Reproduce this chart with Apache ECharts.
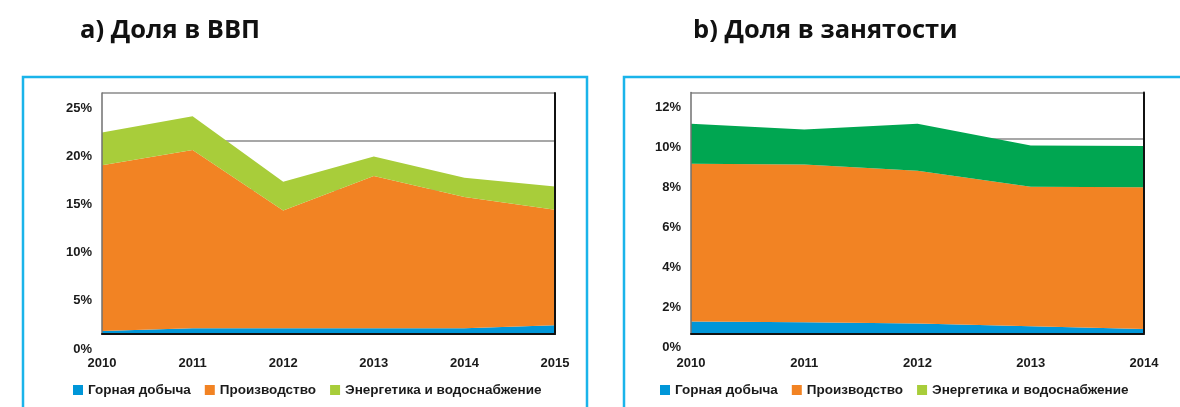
<!DOCTYPE html>
<html>
<head>
<meta charset="utf-8">
<script src="https://cdn.jsdelivr.net/npm/echarts@6/dist/echarts.min.js"></script>
<style>
  html, body { margin: 0; padding: 0; background: #fff; }
  #chart { width: 1180px; height: 407px; }
</style>
</head>
<body>
<div id="chart"></div>
<script>
// данные: доля в ВВП (a) и доля в занятости (b), %
const gdpYears = ['2010', '2011', '2012', '2013', '2014', '2015']
const gdpMining = [0.3, 0.6, 0.6, 0.6, 0.6, 0.9]
const gdpManuf = [17.2, 18.5, 12.2, 15.8, 13.6, 12.0]
const gdpEnergy = [3.4, 3.5, 3.0, 2.0, 2.0, 2.4]

const empYears = ['2010', '2011', '2012', '2013', '2014']
const empMining = [0.6, 0.56, 0.5, 0.36, 0.23]
const empManuf = [7.85, 7.85, 7.6, 6.95, 7.05]
const empEnergy = [2.0, 1.75, 2.35, 2.05, 2.05]

const names = ['Горная добыча', 'Производство', 'Энергетика и водоснабжение']
const colors = ['#0096d8', '#f28323', '#a8cd3a']
const empEnergyColor = '#00a651'

const font = 'Liberation Sans, Arial, sans-serif'
const chart = echarts.init(document.getElementById('chart'))

// 0 и 2 — сетки с данными, 1 и 3 — только подписи оси Y (они сдвинуты вниз)
const grids = [
  { left: 102, top: 93, width: 453, height: 241 },
  { left: 102, top: 108.5, width: 453, height: 240.5 },
  { left: 691, top: 92.5, width: 453, height: 241 },
  { left: 691, top: 107.7, width: 453, height: 240 }
]

function xAxes(years, g) {
  return [
    {
      type: 'category', gridIndex: g, data: years, boundaryGap: false, z: 5,
      axisLine: { lineStyle: { color: '#707070', width: 1.5 } },
      axisTick: { show: false },
      axisLabel: { margin: 23, color: '#1a1a1a', fontWeight: 'bold', fontSize: 13, fontFamily: font }
    },
    {
      type: 'category', gridIndex: g, data: years, boundaryGap: false, position: 'top', z: 5,
      axisLine: { lineStyle: { color: '#111', width: 2 } },
      axisTick: { show: false }, axisLabel: { show: false }
    },
    { type: 'category', gridIndex: g + 1, data: years, show: false }
  ]
}

function yAxes(max, g, lineMax, lineStep, labelInterval) {
  return [
    {
      type: 'value', gridIndex: g, min: 0, max: max, position: 'left', z: 5,
      axisLine: { show: true, lineStyle: { color: '#707070', width: 1.5 } },
      axisTick: { show: false }, axisLabel: { show: false }, splitLine: { show: false }
    },
    {
      type: 'value', gridIndex: g, min: 0, max: max, position: 'right', z: 5,
      axisLine: { show: true, lineStyle: { color: '#111', width: 2 } },
      axisTick: { show: false }, axisLabel: { show: false }, splitLine: { show: false }
    },
    {
      type: 'value', gridIndex: g, min: 0, max: lineMax, interval: lineStep, position: 'right', z: 0,
      axisLine: { show: false }, axisTick: { show: false }, axisLabel: { show: false },
      splitLine: { lineStyle: { color: '#8a8a8a', width: 1.5 } }
    },
    {
      type: 'value', gridIndex: g + 1, min: 0, max: max, interval: labelInterval,
      axisLine: { show: false }, axisTick: { show: false }, splitLine: { show: false },
      axisLabel: {
        margin: 10, color: '#1a1a1a', fontWeight: 'bold', fontSize: 13, fontFamily: font,
        formatter: '{value}%'
      }
    }
  ]
}

function areaSeries(name, data, color, xi, yi, stack) {
  return {
    name: name, type: 'line', stack: stack, data: data,
    xAxisIndex: xi, yAxisIndex: yi,
    symbol: 'none', smooth: false,
    lineStyle: { width: 0 },
    itemStyle: { color: color },
    areaStyle: { color: color, opacity: 1 }
  }
}

const legendData = names.map((n, i) => ({ name: n, itemStyle: { color: colors[i] } }))
const legendBase = {
  top: 378, itemWidth: 10, itemHeight: 10, itemGap: 14, icon: 'rect',
  selectedMode: false, data: legendData,
  textStyle: { color: '#1a1a1a', fontWeight: 'bold', fontSize: 13.5, fontFamily: font }
}

const option = {
  backgroundColor: '#fff',
  animation: false,
  grid: grids,
  xAxis: [...xAxes(gdpYears, 0), ...xAxes(empYears, 2)],
  yAxis: [...yAxes(25, 0, 25, 5, 5), ...yAxes(12, 2, 12.4, 10, 2)],
  legend: [
    Object.assign({ left: 68 }, legendBase),
    Object.assign({ left: 655 }, legendBase)
  ],
  series: [
    areaSeries(names[0], gdpMining, colors[0], 0, 0, 'gdp'),
    areaSeries(names[1], gdpManuf, colors[1], 0, 0, 'gdp'),
    areaSeries(names[2], gdpEnergy, colors[2], 0, 0, 'gdp'),
    areaSeries(names[0], empMining, colors[0], 3, 4, 'emp'),
    areaSeries(names[1], empManuf, colors[1], 3, 4, 'emp'),
    areaSeries(names[2], empEnergy, empEnergyColor, 3, 4, 'emp')
  ],
  graphic: [
    {
      type: 'text', left: 80, top: 18,
      style: { text: 'a) Доля в ВВП', fill: '#111', font: 'bold 25.5px "Open Sans", sans-serif' }
    },
    {
      type: 'text', left: 693, top: 18,
      style: { text: 'b) Доля в занятости', fill: '#111', font: 'bold 25.5px "Open Sans", sans-serif' }
    },
    {
      type: 'rect', shape: { x: 23, y: 77, width: 564, height: 400 }, z: 10, silent: true,
      style: { fill: 'none', stroke: '#1ab4ea', lineWidth: 2.5 }
    },
    {
      type: 'rect', shape: { x: 624, y: 77, width: 600, height: 400 }, z: 10, silent: true,
      style: { fill: 'none', stroke: '#1ab4ea', lineWidth: 2.5 }
    }
  ]
}

chart.setOption(option)
</script>
</body>
</html>
